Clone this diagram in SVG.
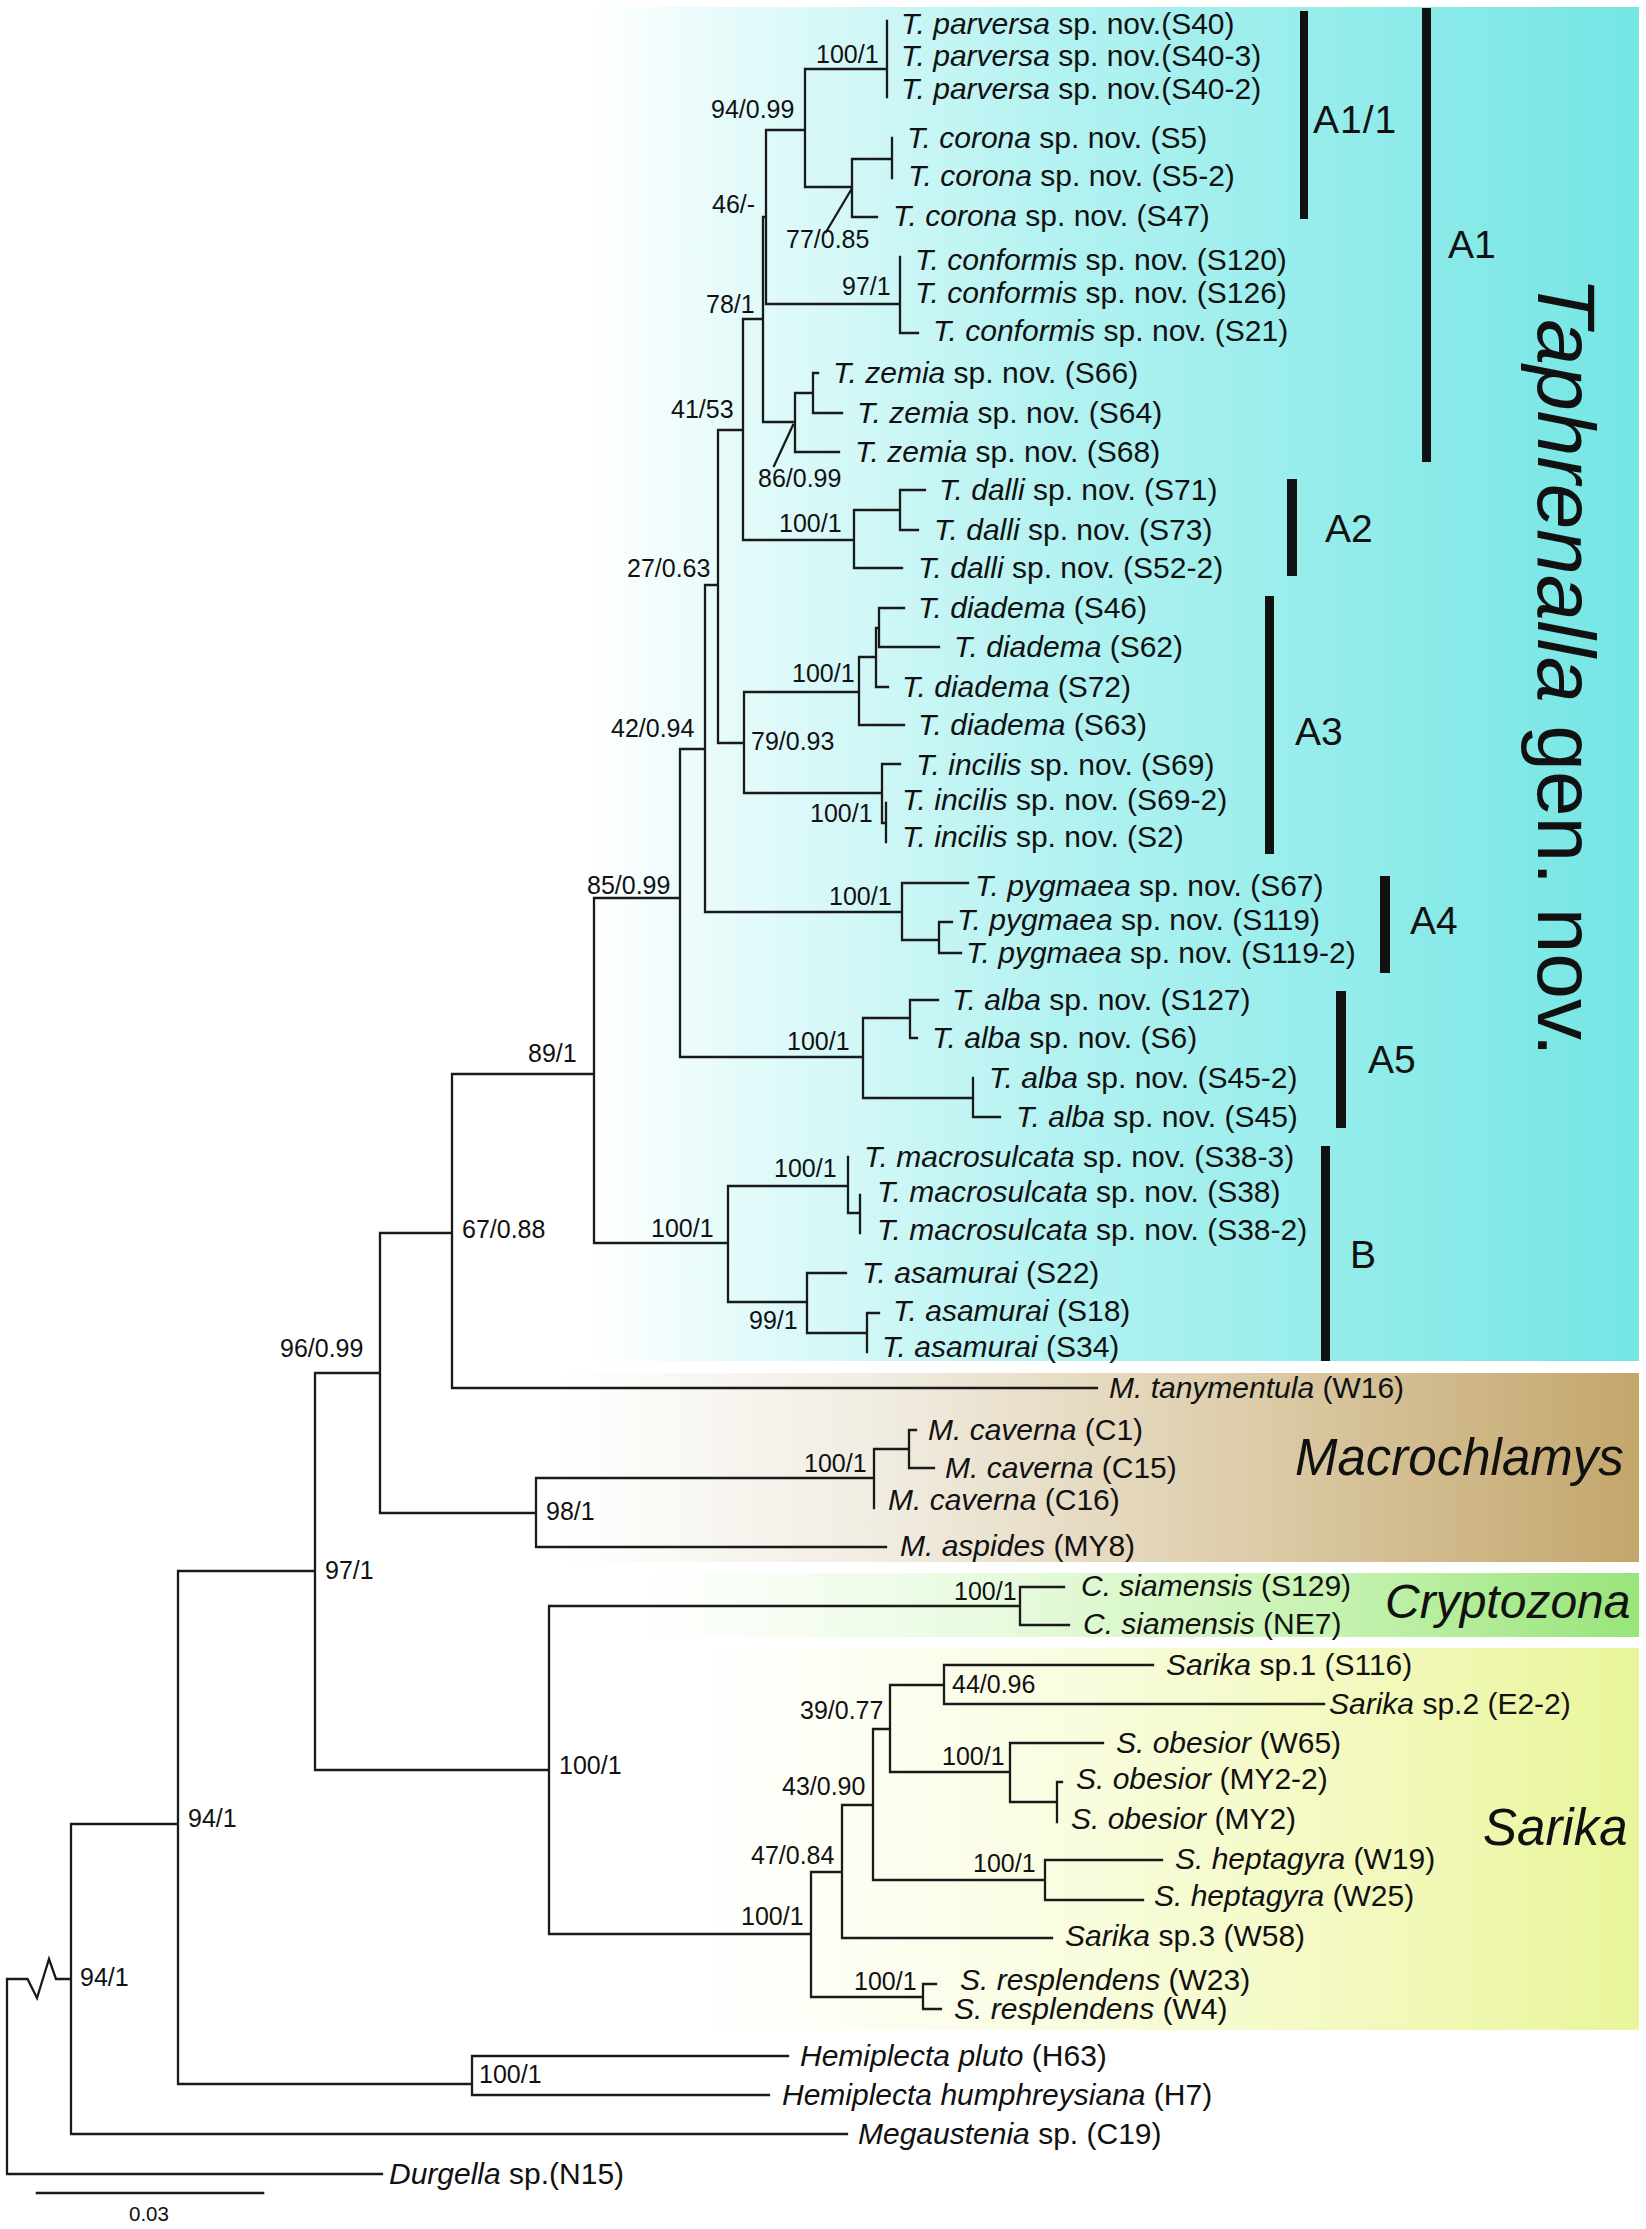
<svg xmlns="http://www.w3.org/2000/svg" width="1646" height="2229" viewBox="0 0 1646 2229">
<style>
text{font-family:"Liberation Sans",Arial,sans-serif;fill:#111}
.t{font-size:30px}
.i{font-style:italic}
.s{font-size:25px}
.c{font-size:39px}
.g{font-size:51px;font-style:italic}
.br{fill:none;stroke:#1a1a1a;stroke-width:2.3;stroke-linecap:square}
.bar{fill:#111}
</style>
<defs>
<linearGradient id="gT" x1="0" y1="0" x2="1" y2="0"><stop offset="0" stop-color="#fff"/><stop offset="0.12" stop-color="#e8fbfb"/><stop offset="0.45" stop-color="#b2f2f1"/><stop offset="1" stop-color="#74e6e4"/></linearGradient>
<linearGradient id="gM" x1="0" y1="0" x2="1" y2="0"><stop offset="0" stop-color="#fff"/><stop offset="0.3" stop-color="#f1ece1"/><stop offset="0.65" stop-color="#dccba7"/><stop offset="1" stop-color="#c3a66c"/></linearGradient>
<linearGradient id="gC" x1="0" y1="0" x2="1" y2="0"><stop offset="0" stop-color="#fff"/><stop offset="0.35" stop-color="#e8fbdf"/><stop offset="0.7" stop-color="#c6f2b0"/><stop offset="1" stop-color="#98e47a"/></linearGradient>
<linearGradient id="gS" x1="0" y1="0" x2="1" y2="0"><stop offset="0" stop-color="#fff"/><stop offset="0.3" stop-color="#fbfde8"/><stop offset="0.7" stop-color="#f3f9bf"/><stop offset="1" stop-color="#e9f59a"/></linearGradient>
</defs>
<rect width="1646" height="2229" fill="#fff"/>
<g id="panels">
<rect x="590" y="7" width="1049" height="1354" fill="url(#gT)"/>
<rect x="560" y="1373" width="1079" height="189" fill="url(#gM)"/>
<rect x="640" y="1573" width="999" height="64" fill="url(#gC)"/>
<rect x="700" y="1648" width="939" height="382" fill="url(#gS)"/>
</g>
<g id="connectors">
<path class="br" d="M805 69H887M887 21V97M805 69V187M805 187H852M852 159V217M852 159H892M892 138V178M852 217H877M851 190L826 232M766 130H805M766 130V304M766 304H900M900 257V333M900 333H918M763 217H766M763 217V422M744 319H763M763 422H795M795 393V452M795 393H813M813 373V413M813 373H818M813 413H842M795 452H839M793 425L774 466M743 319V540M720 430H743M743 540H854M854 510V568M854 510H900M900 490V530M900 490H925M900 530H918M854 568H902M718 430V743M705 585H718M718 743H744M744 692V793M744 692H859M859 657V725M859 657H876M876 628V687M876 628H879M879 608V647M879 608H904M879 647H939M876 687H888M859 725H904M744 793H882M882 764V823M882 764H900M882 823H886M886 803V842M705 585V912M680 749H705M705 912H902M902 883V940M902 883H968M902 940H939M939 922V953M939 922H952M939 953H961M680 749V1057M594 898H680M680 1057H863M863 1018V1098M863 1018H910M910 1000V1038M910 1000H938M910 1038H917M863 1098H973M973 1078V1117M973 1117H1000M594 898V1243M452 1074H594M594 1243H728M728 1186V1302M728 1186H848M848 1157V1213M848 1213H860M860 1195V1233M728 1302H807M807 1273V1333M807 1273H846M807 1333H867M867 1313V1352M867 1313H879M452 1074V1388M380 1233H452M452 1388H1097M380 1233V1513M315 1373H380M380 1513H536M536 1478V1547M536 1478H874M874 1449V1508M874 1449H909M909 1430V1468M909 1430H916M909 1468H934M536 1547H886M315 1373V1770M178 1571H315M315 1770H549M549 1606V1934M549 1606H1020M1020 1587V1625M1020 1587H1064M1020 1625H1069M549 1934H811M811 1872V1997M811 1872H842M842 1805V1938M842 1805H873M873 1729V1880M873 1729H890M890 1685V1772M890 1685H944M944 1665V1704M944 1665H1153M944 1704H1324M890 1772H1010M1010 1743V1802M1010 1743H1103M1010 1802H1057M1057 1782V1822M1057 1782H1062M873 1880H1045M1045 1860V1900M1045 1860H1162M1045 1900H1143M842 1938H1052M811 1997H923M923 1984V2009M923 1984H936M923 2009H941M178 1571V2084M71 1824H178M178 2084H472M472 2056V2095M472 2056H788M472 2095H769M71 1824V2134M71 2134H847M71 1979H56L49 1959L37 1998L27.5 1979H7M7 1979V2174M7 2174H382"/>
</g>
<g id="scale-bar">
<path class="br" d="M37 2193H263" style="stroke-width:2.6"/>
<text x="129" y="2221" style="font-size:20.5px">0.03</text>
</g>
<g id="taxa" class="t">
<g id="n-S40"><text x="901" y="33.5"><tspan class="i">T. parversa</tspan> sp. nov.(S40)</text></g>
<g id="n-S40-3"><text x="901" y="66"><tspan class="i">T. parversa</tspan> sp. nov.(S40-3)</text></g>
<g id="n-S40-2"><text x="901" y="99"><tspan class="i">T. parversa</tspan> sp. nov.(S40-2)</text></g>
<g id="n-S5"><text x="907" y="148"><tspan class="i">T. corona</tspan> sp. nov. (S5)</text></g>
<g id="n-S5-2"><text x="908" y="186"><tspan class="i">T. corona</tspan> sp. nov. (S5-2)</text></g>
<g id="n-S47"><text x="893" y="226"><tspan class="i">T. corona</tspan> sp. nov. (S47)</text></g>
<g id="n-S120"><text x="915" y="270"><tspan class="i">T. conformis</tspan> sp. nov. (S120)</text></g>
<g id="n-S126"><text x="915" y="303"><tspan class="i">T. conformis</tspan> sp. nov. (S126)</text></g>
<g id="n-S21"><text x="933" y="341"><tspan class="i">T. conformis</tspan> sp. nov. (S21)</text></g>
<g id="n-S66"><text x="833" y="383"><tspan class="i">T. zemia</tspan> sp. nov. (S66)</text></g>
<g id="n-S64"><text x="857" y="423"><tspan class="i">T. zemia</tspan> sp. nov. (S64)</text></g>
<g id="n-S68"><text x="855" y="462"><tspan class="i">T. zemia</tspan> sp. nov. (S68)</text></g>
<g id="n-S71"><text x="939" y="500"><tspan class="i">T. dalli</tspan> sp. nov. (S71)</text></g>
<g id="n-S73"><text x="934" y="540"><tspan class="i">T. dalli</tspan> sp. nov. (S73)</text></g>
<g id="n-S52-2"><text x="918" y="578"><tspan class="i">T. dalli</tspan> sp. nov. (S52-2)</text></g>
<g id="n-S46"><text x="918" y="618"><tspan class="i">T. diadema</tspan> (S46)</text></g>
<g id="n-S62"><text x="954" y="657"><tspan class="i">T. diadema</tspan> (S62)</text></g>
<g id="n-S72"><text x="902" y="697"><tspan class="i">T. diadema</tspan> (S72)</text></g>
<g id="n-S63"><text x="918" y="735"><tspan class="i">T. diadema</tspan> (S63)</text></g>
<g id="n-S69"><text x="916" y="775"><tspan class="i">T. incilis</tspan> sp. nov. (S69)</text></g>
<g id="n-S69-2"><text x="902" y="810"><tspan class="i">T. incilis</tspan> sp. nov. (S69-2)</text></g>
<g id="n-S2"><text x="902" y="847"><tspan class="i">T. incilis</tspan> sp. nov. (S2)</text></g>
<g id="n-S67"><text x="975" y="896"><tspan class="i">T. pygmaea</tspan> sp. nov. (S67)</text></g>
<g id="n-S119"><text x="957" y="930"><tspan class="i">T. pygmaea</tspan> sp. nov. (S119)</text></g>
<g id="n-S119-2"><text x="966" y="963"><tspan class="i">T. pygmaea</tspan> sp. nov. (S119-2)</text></g>
<g id="n-S127"><text x="952" y="1010"><tspan class="i">T. alba</tspan> sp. nov. (S127)</text></g>
<g id="n-S6"><text x="932" y="1048"><tspan class="i">T. alba</tspan> sp. nov. (S6)</text></g>
<g id="n-S45-2"><text x="989" y="1088"><tspan class="i">T. alba</tspan> sp. nov. (S45-2)</text></g>
<g id="n-S45"><text x="1016" y="1127"><tspan class="i">T. alba</tspan> sp. nov. (S45)</text></g>
<g id="n-S38-3"><text x="864" y="1167"><tspan class="i">T. macrosulcata</tspan> sp. nov. (S38-3)</text></g>
<g id="n-S38"><text x="877" y="1202"><tspan class="i">T. macrosulcata</tspan> sp. nov. (S38)</text></g>
<g id="n-S38-2"><text x="877" y="1240"><tspan class="i">T. macrosulcata</tspan> sp. nov. (S38-2)</text></g>
<g id="n-S22"><text x="862" y="1283"><tspan class="i">T. asamurai</tspan> (S22)</text></g>
<g id="n-S18"><text x="893" y="1321"><tspan class="i">T. asamurai</tspan> (S18)</text></g>
<g id="n-S34"><text x="882" y="1357"><tspan class="i">T. asamurai</tspan> (S34)</text></g>
<g id="n-W16"><text x="1109" y="1398"><tspan class="i">M. tanymentula</tspan> (W16)</text></g>
<g id="n-C1"><text x="928" y="1440"><tspan class="i">M. caverna</tspan> (C1)</text></g>
<g id="n-C15"><text x="945" y="1478"><tspan class="i">M. caverna</tspan> (C15)</text></g>
<g id="n-C16"><text x="888" y="1510"><tspan class="i">M. caverna</tspan> (C16)</text></g>
<g id="n-MY8"><text x="900" y="1556"><tspan class="i">M. aspides</tspan> (MY8)</text></g>
<g id="n-S129"><text x="1081" y="1596"><tspan class="i">C. siamensis</tspan> (S129)</text></g>
<g id="n-NE7"><text x="1083" y="1634"><tspan class="i">C. siamensis</tspan> (NE7)</text></g>
<g id="n-S116"><text x="1166" y="1675"><tspan class="i">Sarika</tspan> sp.1 (S116)</text></g>
<g id="n-E2-2"><text x="1329" y="1714"><tspan class="i">Sarika</tspan> sp.2 (E2-2)</text></g>
<g id="n-W65"><text x="1116" y="1753"><tspan class="i">S. obesior</tspan> (W65)</text></g>
<g id="n-MY2-2"><text x="1076" y="1789"><tspan class="i">S. obesior</tspan> (MY2-2)</text></g>
<g id="n-MY2"><text x="1071" y="1829"><tspan class="i">S. obesior</tspan> (MY2)</text></g>
<g id="n-W19"><text x="1175" y="1869"><tspan class="i">S. heptagyra</tspan> (W19)</text></g>
<g id="n-W25"><text x="1154" y="1906"><tspan class="i">S. heptagyra</tspan> (W25)</text></g>
<g id="n-W58"><text x="1065" y="1946"><tspan class="i">Sarika</tspan> sp.3 (W58)</text></g>
<g id="n-W23"><text x="960" y="1990"><tspan class="i">S. resplendens</tspan> (W23)</text></g>
<g id="n-W4"><text x="954" y="2019"><tspan class="i">S. resplendens</tspan> (W4)</text></g>
<g id="n-H63"><text x="800" y="2066"><tspan class="i">Hemiplecta pluto</tspan> (H63)</text></g>
<g id="n-H7"><text x="782" y="2105"><tspan class="i">Hemiplecta humphreysiana</tspan> (H7)</text></g>
<g id="n-C19"><text x="858" y="2144"><tspan class="i">Megaustenia</tspan> sp. (C19)</text></g>
<g id="n-N15"><text x="389" y="2184"><tspan class="i">Durgella</tspan> sp.(N15)</text></g>
</g>
<g id="supports" class="s">
<g id="s1"><text x="816" y="63">100/1</text></g>
<g id="s2"><text x="711" y="118">94/0.99</text></g>
<g id="s3"><text x="712" y="213">46/-</text></g>
<g id="s4"><text x="786" y="248">77/0.85</text></g>
<g id="s5"><text x="842" y="295">97/1</text></g>
<g id="s6"><text x="706" y="313">78/1</text></g>
<g id="s7"><text x="671" y="418">41/53</text></g>
<g id="s8"><text x="758" y="487">86/0.99</text></g>
<g id="s9"><text x="779" y="532">100/1</text></g>
<g id="s10"><text x="627" y="577">27/0.63</text></g>
<g id="s11"><text x="792" y="682">100/1</text></g>
<g id="s12"><text x="611" y="737">42/0.94</text></g>
<g id="s13"><text x="751" y="750">79/0.93</text></g>
<g id="s14"><text x="810" y="822">100/1</text></g>
<g id="s15"><text x="587" y="894">85/0.99</text></g>
<g id="s16"><text x="829" y="905">100/1</text></g>
<g id="s17"><text x="787" y="1050">100/1</text></g>
<g id="s18"><text x="528" y="1062">89/1</text></g>
<g id="s19"><text x="774" y="1177">100/1</text></g>
<g id="s20"><text x="651" y="1237">100/1</text></g>
<g id="s21"><text x="749" y="1329">99/1</text></g>
<g id="s22"><text x="462" y="1238">67/0.88</text></g>
<g id="s23"><text x="280" y="1357">96/0.99</text></g>
<g id="s24"><text x="804" y="1472">100/1</text></g>
<g id="s25"><text x="546" y="1520">98/1</text></g>
<g id="s26"><text x="325" y="1579">97/1</text></g>
<g id="s27"><text x="954" y="1600">100/1</text></g>
<g id="s28"><text x="559" y="1774">100/1</text></g>
<g id="s29"><text x="952" y="1693">44/0.96</text></g>
<g id="s30"><text x="800" y="1719">39/0.77</text></g>
<g id="s31"><text x="942" y="1765">100/1</text></g>
<g id="s32"><text x="782" y="1795">43/0.90</text></g>
<g id="s33"><text x="751" y="1864">47/0.84</text></g>
<g id="s34"><text x="973" y="1872">100/1</text></g>
<g id="s35"><text x="741" y="1925">100/1</text></g>
<g id="s36"><text x="854" y="1990">100/1</text></g>
<g id="s37"><text x="188" y="1827">94/1</text></g>
<g id="s38"><text x="479" y="2083">100/1</text></g>
<g id="s39"><text x="80" y="1986">94/1</text></g>
</g>
<g id="clades">
<g id="A1-1"><rect class="bar" x="1300" y="11" width="8" height="208"/><text class="c" x="1313" y="133" style="letter-spacing:1px">A1/1</text></g>
<g id="A1"><rect class="bar" x="1422" y="8" width="9" height="454"/><text class="c" x="1448" y="258">A1</text></g>
<g id="A2"><rect class="bar" x="1287" y="479" width="10" height="97"/><text class="c" x="1325" y="542">A2</text></g>
<g id="A3"><rect class="bar" x="1265" y="596" width="9" height="258"/><text class="c" x="1295" y="745">A3</text></g>
<g id="A4"><rect class="bar" x="1380" y="876" width="10" height="97"/><text class="c" x="1410" y="934">A4</text></g>
<g id="A5"><rect class="bar" x="1336" y="991" width="10" height="137"/><text class="c" x="1368" y="1073">A5</text></g>
<g id="B"><rect class="bar" x="1321" y="1146" width="9" height="215"/><text class="c" x="1350" y="1268">B</text></g>
</g>
<g id="genera">
<g id="Taphrenalla"><text transform="translate(1538,277) rotate(90)" style="font-size:82px"><tspan class="i">Taphrenalla</tspan> gen. nov.</text></g>
<g id="Macrochlamys"><text class="g" x="1295" y="1475">Macrochlamys</text></g>
<g id="Cryptozona"><text class="g" x="1385" y="1618" style="font-size:48px">Cryptozona</text></g>
<g id="Sarika"><text class="g" x="1483" y="1845">Sarika</text></g>
</g>
</svg>
